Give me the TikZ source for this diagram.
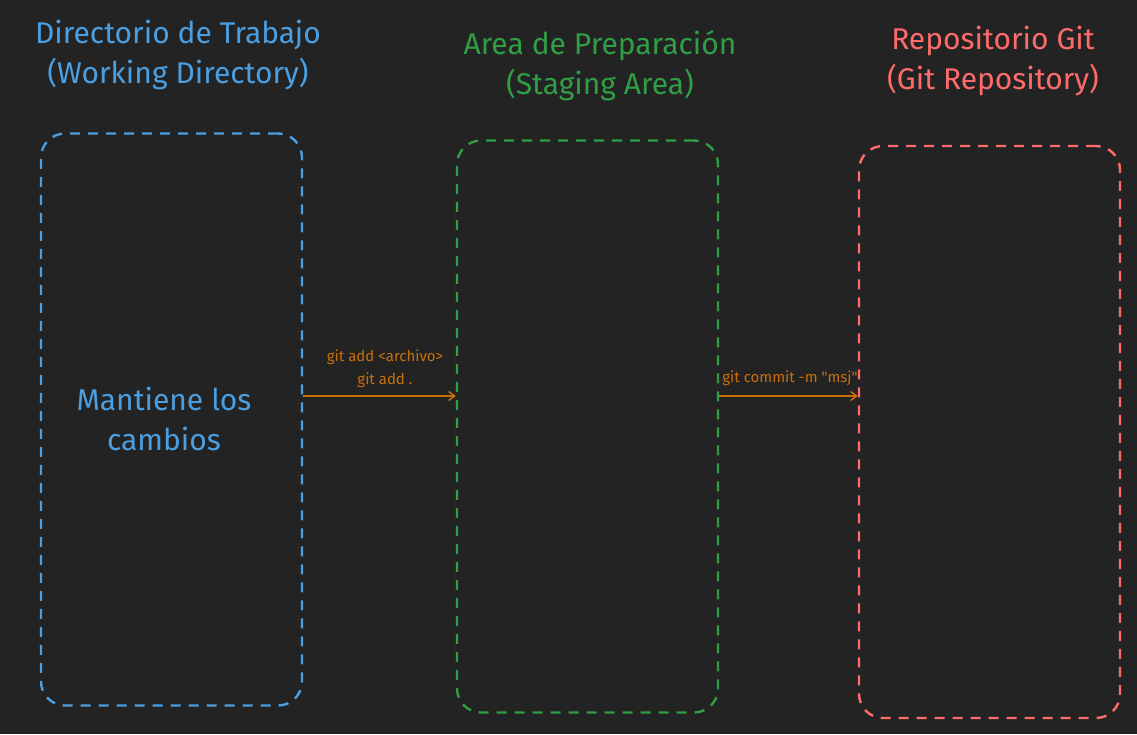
\documentclass[tikz,border=0pt]{standalone}
\usepackage{fontspec}
\setmainfont{Fira Sans}
\usetikzlibrary{positioning,arrows.meta}
\definecolor{bgdark}{HTML}{232323}
\definecolor{wdblue}{HTML}{4A9FE2}
\definecolor{sagreen}{HTML}{2F9E44}
\definecolor{gitred}{HTML}{FF6B6B}
\definecolor{cmdorange}{HTML}{C8700A}
\begin{document}
\begin{tikzpicture}[>={Straight Barb[length=6pt,width=9pt]}, x=1pt, y=-1pt]
    \tikzstyle{area}=[rectangle,draw,dashed,dash pattern=on 10pt off 8pt,line width=2.4pt,rounded corners=24pt,minimum width=261pt,minimum height=572pt]
    \tikzstyle{title}=[align=center,font=\fontsize{30}{40}\selectfont]
    \tikzstyle{cmd}=[align=center,text=cmdorange,font=\fontsize{15}{23}\selectfont]
    \tikzstyle{flow}=[->,draw=cmdorange,line width=1.4pt]
    \fill[bgdark] (0,0) rectangle (1137,734);
    \useasboundingbox (0,0) rectangle (1137,734);
    % the three areas
    \node[area,draw=wdblue] (wd) at (171.5,419.5) {};
    \node[area,draw=sagreen] (sa) at (587.5,426.5) {};
    \node[area,draw=gitred] (repo) at (989.5,432) {};
    % titles
    \node[title,text=wdblue] (wdtitle) at (178,55) {Directorio de Trabajo\\(Working Directory)};
    \node[title,text=sagreen] (satitle) at (600,66) {Area de Preparación\\(Staging Area)};
    \node[title,text=gitred] (repotitle) at (993,61) {Repositorio Git\\(Git Repository)};
    \node[title,text=wdblue] (keeps) at (164,419) {Mantiene los\\cambios};
    % commands
    \draw[flow] (wd.east |- 0,396) -- (sa.west |- 0,396);
    \node[cmd] (addcmd) at (385,369) {git add <archivo>\\git add .};
    \draw[flow] (sa.east |- 0,396) -- (repo.west |- 0,396);
    \node[cmd] (commitcmd) at (790,378) {git commit -m \textquotedbl msj\textquotedbl};
\end{tikzpicture}
\end{document}
